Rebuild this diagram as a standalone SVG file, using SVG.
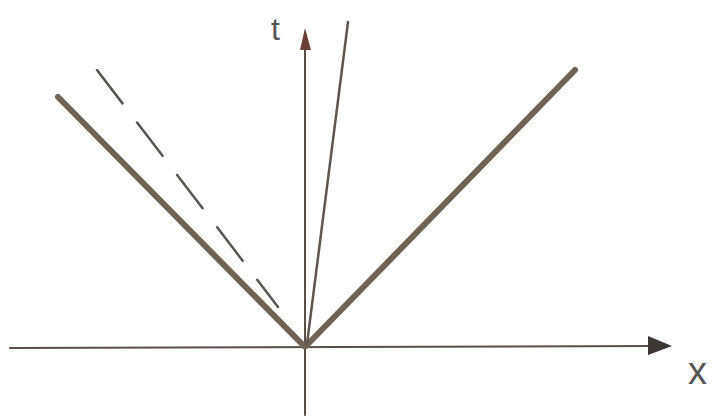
<svg xmlns="http://www.w3.org/2000/svg" width="720" height="419" viewBox="0 0 720 419">
<style>
.axis{stroke:#5a4f48;stroke-width:2;fill:none;stroke-linecap:round}
.thick{stroke:#6e6355;stroke-width:6;fill:none;stroke-linecap:round}
.thin{stroke:#5f5650;stroke-width:2.5;fill:none;stroke-linecap:round}
.dash{stroke:#5a5555;stroke-width:2.5;fill:none;stroke-linecap:round;stroke-dasharray:42 24}
.lbl{font-family:"Liberation Sans",sans-serif;fill:#555;}
</style>
<rect width="720" height="419" fill="#ffffff"/>
<g id="connectors">
<line id="x-axis" class="axis" x1="10" y1="348" x2="655" y2="346"/>
<polygon points="648,336 672,346 648,355" fill="#3e3535"/>
<line id="t-axis" class="axis" x1="305" y1="415" x2="305" y2="40"/>
<polygon points="300,50 305,28 311,50" fill="#6b4035"/>
<line id="left-light" class="thick" x1="58" y1="97" x2="304" y2="346"/>
<line id="right-light" class="thick" x1="306" y1="346" x2="575" y2="70"/>
<line id="worldline" class="thin" x1="307" y1="344" x2="348" y2="22"/>
<line id="dashed" class="dash" x1="97" y1="70" x2="278" y2="307"/>
</g>
<g id="label-t"><text class="lbl" x="271" y="40" font-size="32">t</text></g>
<g id="label-x"><text class="lbl" x="688" y="384" font-size="38">x</text></g>
</svg>
